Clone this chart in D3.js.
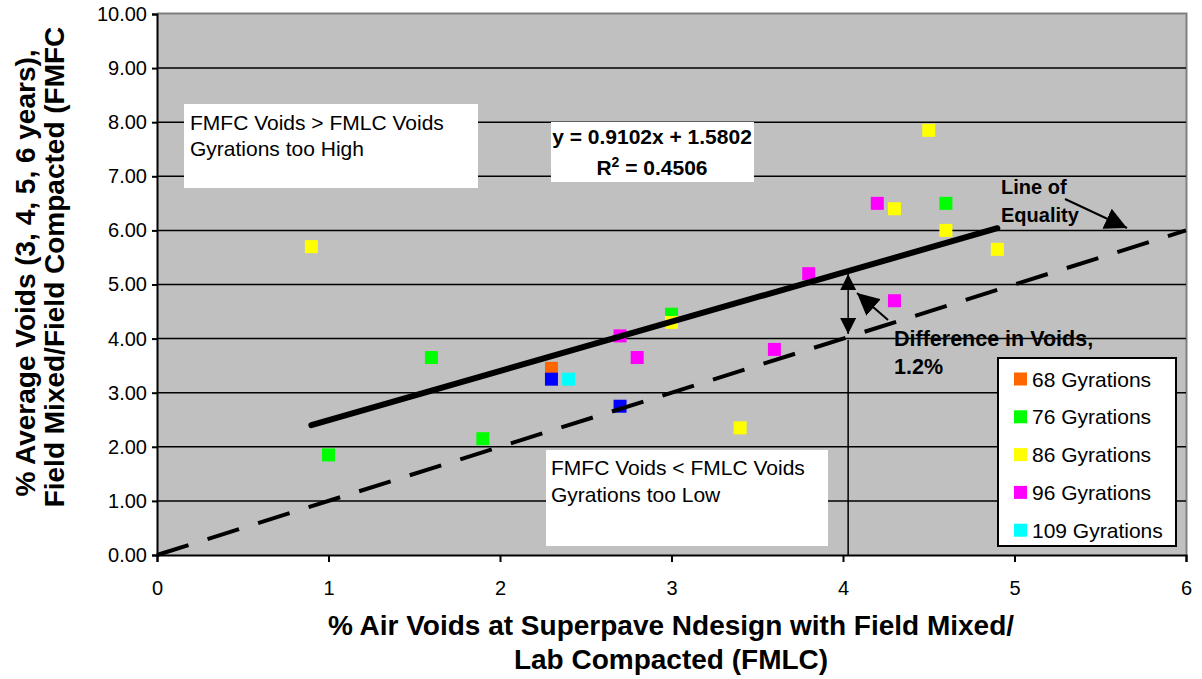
<!DOCTYPE html>
<html><head><meta charset="utf-8">
<script src="https://cdn.jsdelivr.net/npm/d3@7"></script>
<style>body{margin:0;background:#fff;} text{font-family:"Liberation Sans",Arial,sans-serif;}</style>
</head><body><svg id="c" width="1202" height="679"></svg>
<script>
// ---- data ----
const seriesNames = ["68 Gyrations", "76 Gyrations", "86 Gyrations", "96 Gyrations", "109 Gyrations", ""];
const seriesColors = ["#FF6600", "#00FF00", "#FFFF00", "#FF00FF", "#00FFFF", "#0000FF"];
const x68 = [2.3], y68 = [3.45];
const x76 = [1.0, 1.6, 1.9, 3.0, 4.6], y76 = [1.85, 3.65, 2.15, 4.45, 6.5];
const x86 = [0.9, 3.0, 3.4, 4.3, 4.5, 4.6, 4.9], y86 = [5.7, 4.3, 2.35, 6.4, 7.85, 6.0, 5.65];
const x96 = [2.7, 2.8, 3.6, 3.8, 4.2, 4.3], y96 = [4.05, 3.65, 3.8, 5.2, 6.5, 4.7];
const x109 = [2.4], y109 = [3.25];
const xOther = [2.3, 2.7], yOther = [3.25, 2.75];
const seriesX = [x68, x76, x86, x96, x109, xOther];
const seriesY = [y68, y76, y86, y96, y109, yOther];
const trendSlope = 0.9102, trendIntercept = 1.5802, trendR2 = 0.4506;
const trendRange = [0.9, 4.9];
const equalityRange = [0, 6];
const diffX = 4.03;
const xTicks = [0, 1, 2, 3, 4, 5, 6];
const yTicks = [0, 1, 2, 3, 4, 5, 6, 7, 8, 9, 10];

// ---- layout ----
const svg = d3.select("#c");
const L = 157, R = 1186, T = 14, B = 555;
const x = d3.scaleLinear().domain([0, 6]).range([L, R]);
const y = d3.scaleLinear().domain([0, 10]).range([B, T]);

svg.append("rect").attr("x", L).attr("y", T).attr("width", R - L).attr("height", B - T).attr("fill", "#C0C0C0");
svg.append("path").attr("d", `M${L},${T - 0.5}H${R + 0.5}V${B}`).attr("fill", "none").attr("stroke", "#808080").attr("stroke-width", 2);

// gridlines
svg.append("g").selectAll("line").data(yTicks.filter(d => d > 0 && d < 10)).join("line")
  .attr("x1", L).attr("x2", R).attr("y1", d => y(d)).attr("y2", d => y(d))
  .attr("stroke", "#000").attr("stroke-width", 1.5);

// axes
const yAxis = svg.append("g").attr("transform", `translate(${L},0)`)
  .call(d3.axisLeft(y).tickValues(yTicks).tickFormat(d3.format(".2f")).tickSizeOuter(0).tickSize(5).tickPadding(5));
const xAxis = svg.append("g").attr("transform", `translate(0,${B})`)
  .call(d3.axisBottom(x).tickValues(xTicks).tickFormat(d3.format("d")).tickSizeOuter(0).tickSize(7).tickPadding(19));
[yAxis, xAxis].forEach(a => {
  a.select(".domain").attr("stroke", "#000").attr("stroke-width", 2);
  a.selectAll(".tick line").attr("stroke", "#000").attr("stroke-width", 2);
  a.selectAll("text").attr("font-size", 20).attr("fill", "#000").attr("font-family", "Liberation Sans, Arial, sans-serif");
});

// annotation boxes
function box(x0, y0, w, h) {
  svg.append("rect").attr("x", x0).attr("y", y0).attr("width", w).attr("height", h).attr("fill", "#fff");
}
box(184, 104, 294, 84);
box(546, 450, 282, 96);
box(551, 122, 203, 60);

// markers
const markers = svg.append("g");
seriesX.forEach((xs, i) => {
  markers.selectAll(null).data(xs.map((v, j) => [v, seriesY[i][j]])).join("rect")
    .attr("x", d => x(d[0]) - 6.5).attr("y", d => y(d[1]) - 6.5)
    .attr("width", 13).attr("height", 13).attr("fill", seriesColors[i]);
});

// equality line
svg.append("line").attr("x1", x(equalityRange[0])).attr("y1", y(equalityRange[0]))
  .attr("x2", x(equalityRange[1])).attr("y2", y(equalityRange[1]))
  .attr("stroke", "#000").attr("stroke-width", 4).attr("stroke-dasharray", "33,20");
// trend line
svg.append("line").attr("x1", x(trendRange[0])).attr("y1", y(trendSlope * trendRange[0] + trendIntercept))
  .attr("x2", x(trendRange[1])).attr("y2", y(trendSlope * trendRange[1] + trendIntercept))
  .attr("stroke", "#000").attr("stroke-width", 6).attr("stroke-linecap", "round");

// arrowheads
const defs = svg.append("defs");
function mk(id, s) {
  defs.append("marker").attr("id", id).attr("viewBox", "0 0 10 10").attr("refX", 10).attr("refY", 5)
    .attr("markerWidth", s).attr("markerHeight", s).attr("markerUnits", "userSpaceOnUse").attr("orient", "auto")
    .append("path").attr("d", "M0,0L10,5L0,10Z").attr("fill", "#000");
}
mk("ahBig", 22); mk("ahMid", 16);

// vertical difference line
const yTop = y(trendSlope * diffX + trendIntercept), yEq = y(diffX);
svg.append("line").attr("x1", x(diffX)).attr("x2", x(diffX)).attr("y1", B).attr("y2", yEq + 3)
  .attr("stroke", "#000").attr("stroke-width", 1.5);
svg.append("line").attr("x1", x(diffX)).attr("x2", x(diffX)).attr("y1", (yTop + yEq) / 2).attr("y2", yEq - 3)
  .attr("stroke", "#000").attr("stroke-width", 1.5).attr("marker-end", "url(#ahMid)");
svg.append("line").attr("x1", x(diffX)).attr("x2", x(diffX)).attr("y1", (yTop + yEq) / 2).attr("y2", yTop + 3)
  .attr("stroke", "#000").attr("stroke-width", 1.5).attr("marker-end", "url(#ahMid)");
// pointer arrows
svg.append("line").attr("x1", 888).attr("y1", 320).attr("x2", 857).attr("y2", 293)
  .attr("stroke", "#000").attr("stroke-width", 2).attr("marker-end", "url(#ahBig)");
svg.append("line").attr("x1", 1065).attr("y1", 199).attr("x2", 1127).attr("y2", 228)
  .attr("stroke", "#000").attr("stroke-width", 2).attr("marker-end", "url(#ahBig)");

// texts
function txt(t, xx, yy, opts = {}) {
  return svg.append("text").attr("x", xx).attr("y", yy).attr("font-size", opts.size || 21)
    .attr("font-weight", opts.bold ? "bold" : "normal").attr("text-anchor", opts.anchor || "start")
    .attr("fill", "#000").text(t);
}
txt("FMFC Voids > FMLC Voids", 190, 130);
txt("Gyrations too High", 190, 156);
txt("FMFC Voids < FMLC Voids", 551, 475);
txt("Gyrations too Low", 551, 502);
txt("y = 0.9102x + 1.5802", 652, 144, {bold: true, anchor: "middle"});
const r2 = txt("", 652, 175, {bold: true, anchor: "middle"});
r2.append("tspan").text("R");
r2.append("tspan").attr("dy", -8).attr("font-size", 14).text("2");
r2.append("tspan").attr("dy", 8).text(" = " + trendR2.toFixed(4));
txt("Line of", 1001, 194, {bold: true, size: 20});
txt("Equality", 1001, 222, {bold: true, size: 20});
txt("Difference in Voids,", 894, 346, {bold: true, size: 21.5});
txt("1.2%", 894, 374, {bold: true, size: 21.5});

// legend
const lg = svg.append("g");
lg.append("rect").attr("x", 998).attr("y", 358).attr("width", 178).attr("height", 188)
  .attr("fill", "#fff").attr("stroke", "#000").attr("stroke-width", 2);
const legendItems = seriesNames.map((n, i) => ({n, c: seriesColors[i]})).filter(d => d.n);
legendItems.forEach((d, i) => {
  const cy = 379 + i * 37.8;
  lg.append("rect").attr("x", 1014).attr("y", cy - 6.5).attr("width", 13).attr("height", 13).attr("fill", d.c);
  lg.append("text").attr("x", 1032).attr("y", cy + 7.5).attr("font-size", 21).text(d.n);
});

// axis titles
txt("% Air Voids at Superpave Ndesign with Field Mixed/", 671, 635, {bold: true, size: 28, anchor: "middle"});
txt("Lab Compacted (FMLC)", 671, 669, {bold: true, size: 28, anchor: "middle"});
const yt = svg.append("g").attr("transform", "rotate(-90)");
yt.append("text").attr("x", -273).attr("y", 35).attr("text-anchor", "middle").attr("font-size", 28).attr("font-weight", "bold").text("% Average Voids (3, 4, 5, 6 years),");
yt.append("text").attr("x", -267).attr("y", 64).attr("text-anchor", "middle").attr("font-size", 28).attr("font-weight", "bold").text("Field Mixed/Field Compacted (FMFC");
</script></body></html>
